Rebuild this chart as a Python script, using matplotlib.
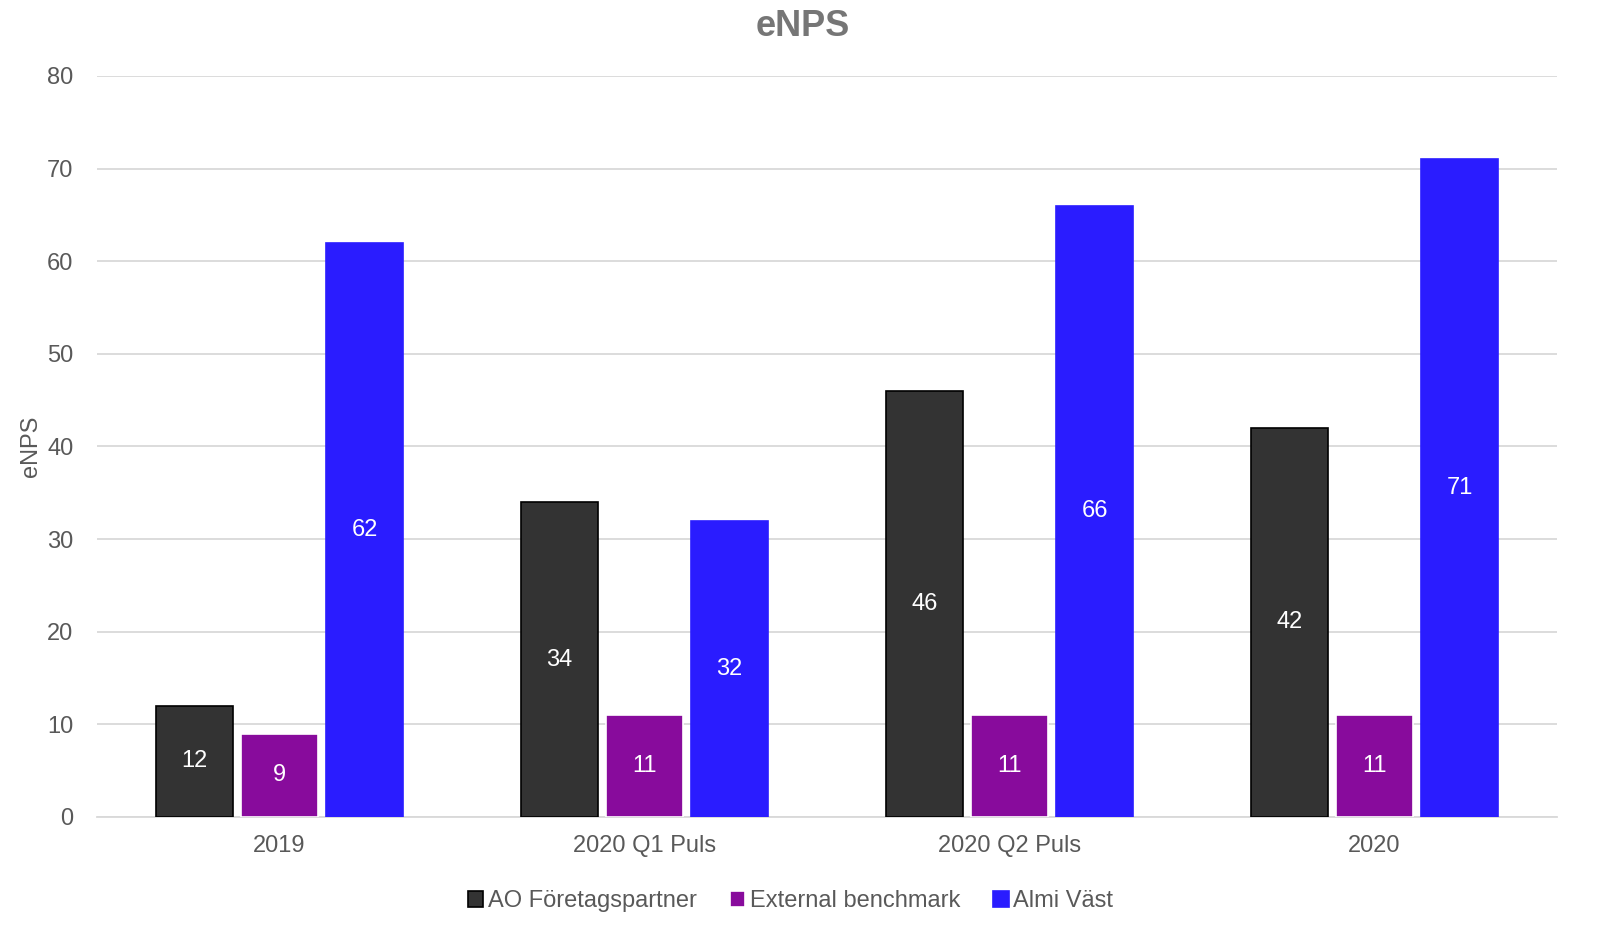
"""
    eNPS grouped bar chart
"""

import numpy as np
import matplotlib.pyplot as plt

# Chart data
categories = ["2019", "2020 Q1 Puls", "2020 Q2 Puls", "2020"]
series_names = ["AO Företagspartner", "External benchmark", "Almi Väst"]
ao_values = [12, 34, 46, 42]
benchmark_values = [9, 11, 11, 11]
almi_values = [62, 32, 66, 71]

colors = ["#333333", "#880b9c", "#2a1cff"]
edges = ["#000000", "#ffffff", "#2a1cff"]

plt.rcParams["font.family"] = ["Liberation Sans", "DejaVu Sans"]

fig = plt.figure(figsize=(16.06, 9.32), dpi=100)
ax = fig.add_axes([0.0604, 0.1234, 0.9091, 0.7951])

x = np.arange(len(categories))
width = 0.212
offsets = [-0.233, 0.0, 0.233]
all_values = [ao_values, benchmark_values, almi_values]

for name, vals, off, col, edge in zip(series_names, all_values, offsets, colors, edges):
    bars = ax.bar(x + off, vals, width=width, color=col, edgecolor=edge,
                  linewidth=1.2, label=name, zorder=3)
    ax.bar_label(bars, label_type="center", color="white", fontsize=17)

ax.set_xlim(-0.5, 3.5)
ax.set_ylim(0, 80)
ax.set_yticks(range(0, 81, 10))
ax.set_xticks(x)
ax.set_xticklabels(categories)
ax.tick_params(axis="both", length=0, labelsize=17, labelcolor="#595959")
ax.tick_params(axis="x", pad=13)
ax.tick_params(axis="y", pad=17)
ax.grid(axis="y", color="#d9d9d9", linewidth=1.3, zorder=0)
for side in ["top", "right", "left"]:
    ax.spines[side].set_visible(False)
ax.spines["bottom"].set_color("#d9d9d9")
ax.spines["bottom"].set_linewidth(1.3)

ax.set_ylabel("eNPS", fontsize=17, color="#595959")
ax.yaxis.set_label_coords(-0.038, 0.5)
fig.suptitle("eNPS", fontsize=26, fontweight="bold", color="#767676", y=0.99)

ax.legend(loc="upper center", bbox_to_anchor=(0.475, -0.07), ncol=3,
          frameon=False, fontsize=17, labelcolor="#595959",
          handlelength=0.65, handleheight=0.65, handletextpad=0.2,
          columnspacing=1.4)

plt.savefig("out.png", dpi=100)
